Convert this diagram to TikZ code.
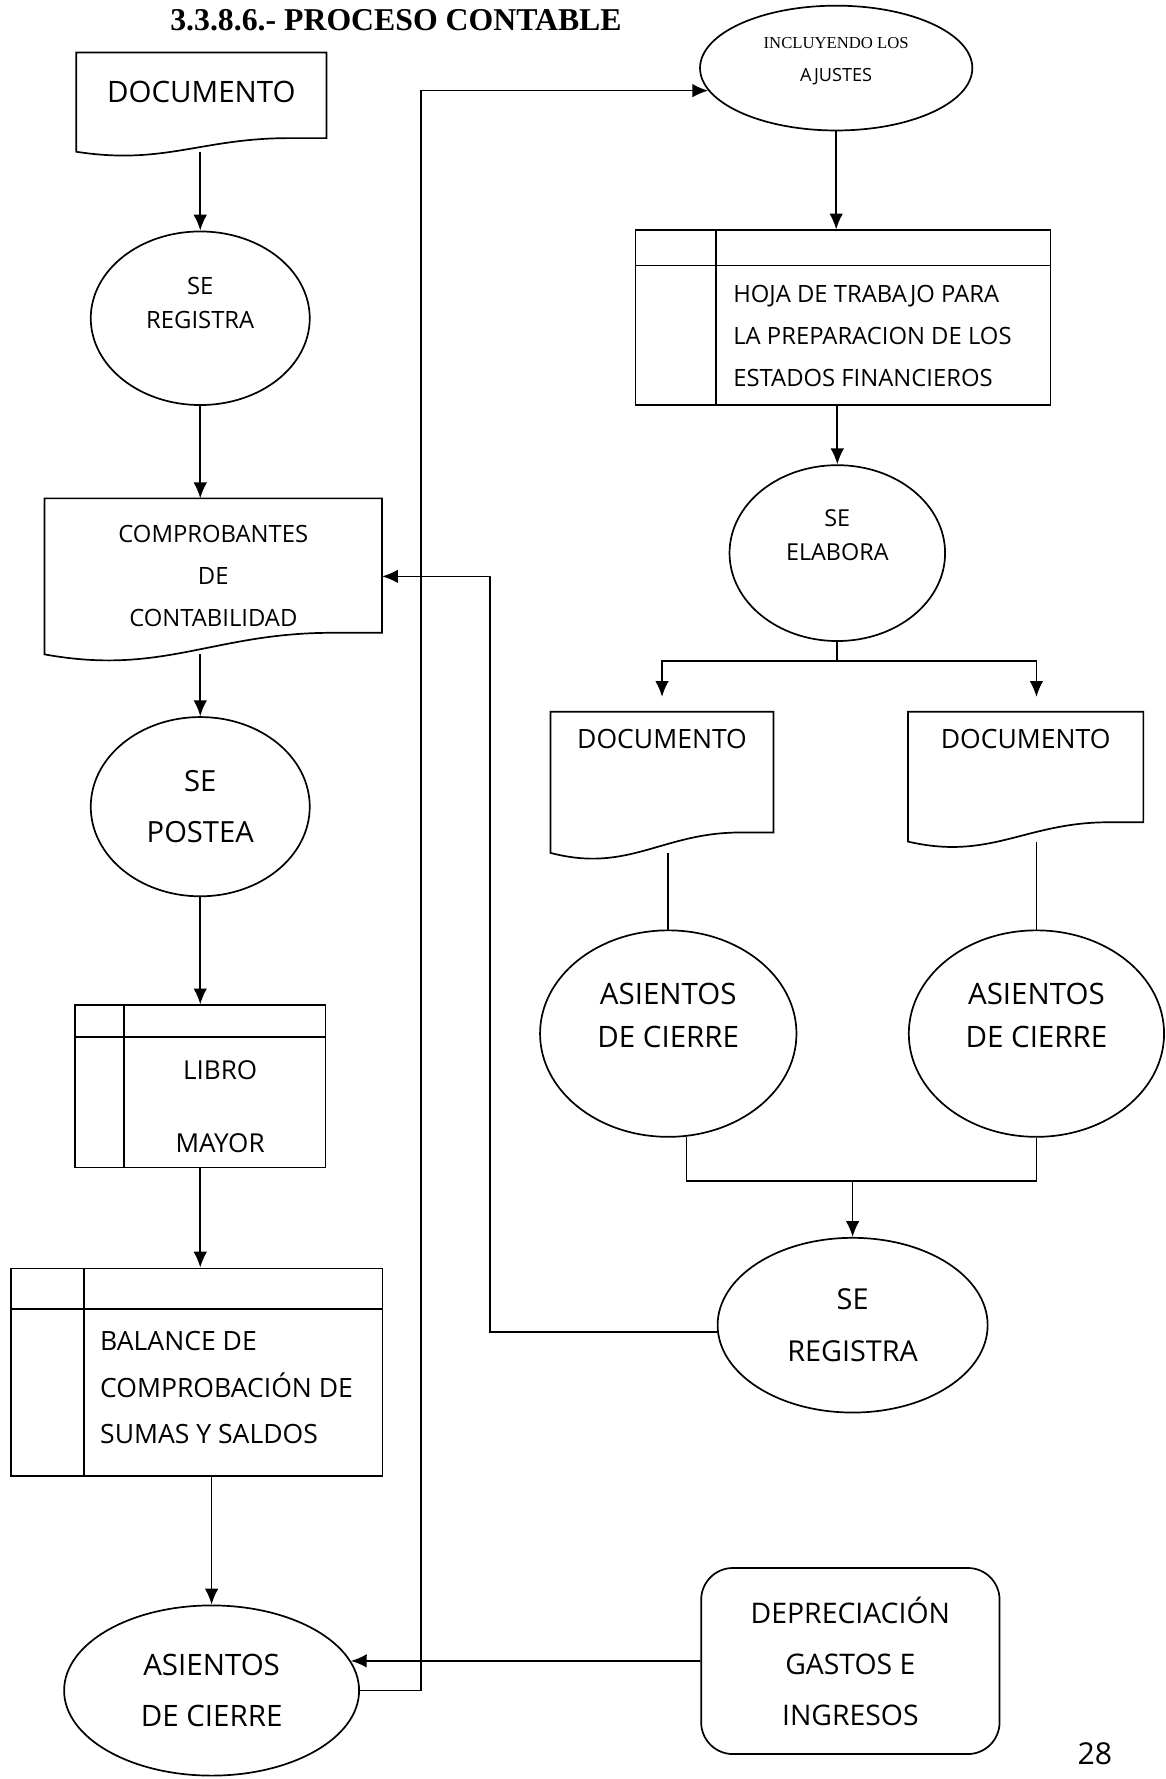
\documentclass[tikz,border=0pt]{standalone}
\usepackage{fontspec}
\setmainfont{Open Sans}
\newfontfamily\serifhead{Liberation Serif}
\usetikzlibrary{shapes.geometric,positioning,arrows.meta,calc}

\newcommand\fsz[2]{\fontsize{#1}{#2}\selectfont}

\tikzset{
oval/.style={
  ellipse,
  draw,
  inner sep=0pt,
  align=center
  },
docbox/.style={
  rectangle,
  inner sep=0pt,
  align=center
  },
ledger/.style 2 args={
  rectangle,
  draw,
  inner sep=0pt,
  path picture={
    \draw ([xshift=#1]path picture bounding box.north west) -- ([xshift=#1]path picture bounding box.south west);
    \draw ([yshift=-#2]path picture bounding box.north west) -- ([yshift=-#2]path picture bounding box.north east);
  }
  }
}

% outline of a document symbol, #2 = rise of the right end of the wave
\newcommand\docwave[2]{%
  \draw ($(#1.south east)+(0pt,#2)$) -- (#1.north east) -- (#1.north west) -- (#1.south west)
    .. controls ($(#1.south west)!0.35!(#1.south east)+(0pt,{-1.0*#2})$)
       and ($(#1.south west)!0.5!(#1.south east)+(0pt,#2)$)
    .. ($(#1.south west)!0.85!(#1.south east)+(0pt,#2)$) -- cycle;}

\begin{document}
\begin{tikzpicture}[x=1pt,y=-1pt,line width=1.5pt,>={Latex[length=14pt,width=12pt]}]
\useasboundingbox (0,0) rectangle (1027,1568);

\node[font=\serifhead\bfseries\fsz{28}{32}] (title) at (349,18) {3.3.8.6.- PROCESO CONTABLE};

% left column
\node[docbox, minimum width=219pt, minimum height=86pt,
  label={[font=\fsz{26}{30},yshift=9pt]center:DOCUMENTO}] (doc1) at (177.5,90) {};
\docwave{doc1}{12pt}

\node[oval, minimum width=193pt, minimum height=153pt,
  label={[font=\fsz{21}{30},align=center,yshift=13.5pt]center:SE\\REGISTRA}] (reg1) at (176.5,280.5) {};

\node[docbox, minimum width=296pt, minimum height=136pt, font=\fsz{21}{37}] (comp) at (188,508)
  {COMPROBANTES\\DE\\CONTABILIDAD};
\docwave{comp}{19pt}

\node[oval, minimum width=193pt, minimum height=158pt, font=\fsz{25.7}{45}] (post) at (176.5,711) {SE\\POSTEA};

\node[ledger={43pt}{28pt}, minimum width=221pt, minimum height=143pt,
  label={[font=\fsz{23}{65},align=center,xshift=17.5pt,yshift=-18pt]center:LIBRO\\MAYOR}] (libro) at (176.5,957.5) {};

\node[ledger={64pt}{36pt}, minimum width=327pt, minimum height=183pt,
  label={[font=\fsz{23.4}{41},align=left,anchor=west,xshift=75pt,yshift=-13.5pt]west:BALANCE DE\\COMPROBACIÓN DE\\SUMAS Y SALDOS}] (bal) at (173.5,1209.5) {};

\node[oval, minimum width=260pt, minimum height=150pt, font=\fsz{26}{45}] (asb) at (186.5,1490) {ASIENTOS\\DE CIERRE};

% right column
\node[oval, minimum width=240pt, minimum height=110pt,
  label={[font=\fsz{16}{29},align=center,yshift=6pt]center:{\serifhead\fsz{14.7}{29}INCLUYENDO LOS}\\AJUSTES}] (incl) at (737,60) {};

\node[ledger={71pt}{31pt}, minimum width=366pt, minimum height=154pt,
  label={[font=\fsz{21}{37},align=left,anchor=west,xshift=83pt,yshift=-16pt]west:HOJA DE TRABAJO PARA\\LA PREPARACION DE LOS\\ESTADOS FINANCIEROS}] (hoja) at (743,280) {};

\node[oval, minimum width=190pt, minimum height=155pt,
  label={[font=\fsz{20.6}{30},align=center,yshift=15.5pt]center:SE\\ELABORA}] (elab) at (738,487.5) {};

\node[docbox, minimum width=195pt, minimum height=123pt,
  label={[font=\fsz{23.4}{28},yshift=38.5pt]center:DOCUMENTO}] (doc3) at (583.5,689.5) {};
\docwave{doc3}{18pt}
\node[docbox, minimum width=206pt, minimum height=113pt,
  label={[font=\fsz{23.4}{28},yshift=33.5pt]center:DOCUMENTO}] (doc4) at (904,684.5) {};
\docwave{doc4}{17pt}

\node[oval, minimum width=226pt, minimum height=182pt,
  label={[font=\fsz{26}{38},align=center,yshift=16pt]center:ASIENTOS\\DE CIERRE}] (asl) at (589,911) {};
\node[oval, minimum width=225pt, minimum height=182pt,
  label={[font=\fsz{26}{38},align=center,yshift=16pt]center:ASIENTOS\\DE CIERRE}] (asr) at (913.5,911) {};

\node[oval, minimum width=238pt, minimum height=154pt, font=\fsz{25.4}{46}] (regr) at (751.5,1168) {SE\\REGISTRA};

\node[draw, rounded corners=28pt, align=center, minimum width=263pt, minimum height=164pt,
  font=\fsz{25}{45}] (dep) at (749.5,1464) {DEPRECIACIÓN\\GASTOS E\\INGRESOS};

\node[font=\fsz{26.6}{30}] (pagenum) at (965,1546) {28};

% connectors
\draw[->] (reg1.north |- doc1.south) -- (reg1.north);
\draw[->] (reg1.south) -- (reg1.south |- comp.north);
\draw[->] (post.north |- comp.south) -- (post.north);
\draw[->] (post.south) -- (post.south |- libro.north);
\draw[->] (libro.south) -- (libro.south |- bal.north);
\draw[->] (asb.north |- bal.south) -- (asb.north);
\draw[->] (asb.east) -- ++(54,0) |- (incl.190);
\draw[->] (dep.west) -- (asb.12);

\draw[->] (incl.south) -- (incl.south |- hoja.north);
\draw[->] (elab.north |- hoja.south) -- (elab.north);
\draw (elab.south) -- ++(0,17) coordinate (fork);
\draw[->,shorten >=13pt] (fork) -| (doc3.north);
\draw[->,shorten >=13pt] (fork) -| (asr.north |- doc4.north);
\draw (asl.north |- doc3.south) -- (asl.north);
\draw (asr.north |- doc4.south) -- (asr.north);
\draw (asl.280) -- ++(0,39) coordinate (join) -| (asr.south);
\draw[->] (join -| regr.north) -- (regr.north);
\draw[->] (regr.183) -- ++(-200,0) |- (comp.east);
\end{tikzpicture}
\end{document}
